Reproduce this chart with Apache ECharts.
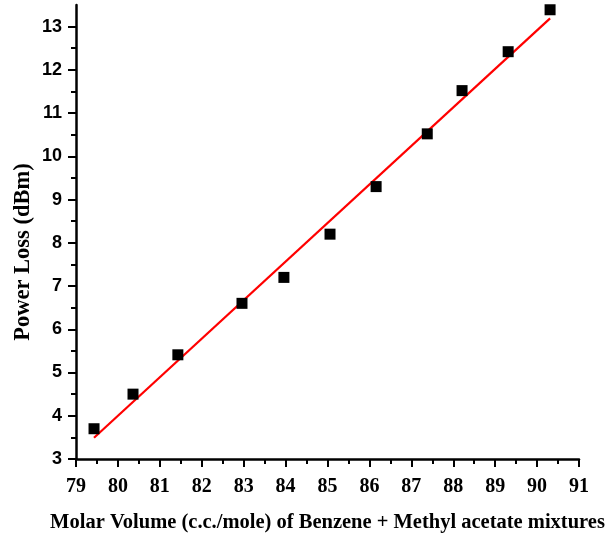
<!DOCTYPE html>
<html>
<head>
<meta charset="utf-8">
<script src="https://cdn.jsdelivr.net/npm/echarts@6/dist/echarts.min.js"></script>
<style>html,body{margin:0;padding:0;background:#fff}#c{width:613px;height:535px}</style>
</head>
<body>
<div id="c"></div>
<script>
var molarVolume = [79.43, 80.36, 81.43, 82.96, 83.96, 85.06, 86.16, 87.38, 88.21, 89.31, 90.31];
var powerLoss   = [3.70, 4.50, 5.41, 6.60, 7.20, 8.20, 9.30, 10.52, 11.52, 12.42, 13.39];
var fitX = [79.43, 90.31];
var fitY = [3.49, 13.19];
var yMajorTicks = [3, 4, 5, 6, 7, 8, 9, 10, 11, 12, 13];
var yMinorTicks = [3.5, 4.5, 5.5, 6.5, 7.5, 8.5, 9.5, 10.5, 11.5, 12.5];
var xTitle = 'Molar Volume (c.c./mole) of Benzene + Methyl acetate mixtures';
var yTitle = 'Power Loss (dBm)';

var chart = echarts.init(document.getElementById('c'), null, {renderer: 'canvas'});
var pts = molarVolume.map(function (x, i) { return [x, powerLoss[i]]; });
var fit = fitX.map(function (x, i) { return [x, fitY[i]]; });

chart.setOption({
  animation: false,
  backgroundColor: '#fff',
  grid: {left: 76, top: 5, right: 34, bottom: 76, containLabel: false, outerBoundsMode: 'none'},
  xAxis: {
    type: 'value', min: 79, max: 91, interval: 1,
    axisLine: {lineStyle: {color: '#000', width: 2.5}},
    axisTick: {length: 8, lineStyle: {color: '#000', width: 2}},
    minorTick: {show: true, splitNumber: 2, length: 5, lineStyle: {color: '#000', width: 2}},
    splitLine: {show: false},
    axisLabel: {color: '#000', fontFamily: 'Liberation Serif', fontWeight: 'bold', fontSize: 20, margin: 18},
    name: xTitle, nameLocation: 'middle', nameGap: 53, nameMoveOverlap: false,
    nameTextStyle: {color: '#000', fontFamily: 'Liberation Serif', fontWeight: 'bold', fontSize: 20.5}
  },
  yAxis: [{
    type: 'value', min: 3, max: 13.5,
    axisLine: {lineStyle: {color: '#000', width: 2.5}},
    axisTick: {length: 8, customValues: yMajorTicks, lineStyle: {color: '#000', width: 2}},
    splitLine: {show: false},
    axisLabel: {color: '#000', fontFamily: 'Liberation Sans', fontWeight: 'bold', fontSize: 18, margin: 14, customValues: yMajorTicks},
    name: yTitle, nameLocation: 'middle', nameGap: 41, nameMoveOverlap: false,
    nameTextStyle: {color: '#000', fontFamily: 'Liberation Serif', fontWeight: 'bold', fontSize: 22.5, padding: [0, 40, 0, 0]}
  }, {
    type: 'value', min: 3, max: 13.5, position: 'left',
    axisLine: {show: false},
    axisTick: {length: 5, customValues: yMinorTicks, lineStyle: {color: '#000', width: 2}},
    axisLabel: {show: false},
    splitLine: {show: false}
  }],
  series: [{
    type: 'line', data: fit, showSymbol: false, symbol: 'none',
    lineStyle: {color: '#ff0000', width: 2.2}, z: 2
  }, {
    type: 'scatter', data: pts, symbol: 'rect', symbolSize: 11,
    itemStyle: {color: '#000', opacity: 1}, z: 3
  }]
});
</script>
</body>
</html>
